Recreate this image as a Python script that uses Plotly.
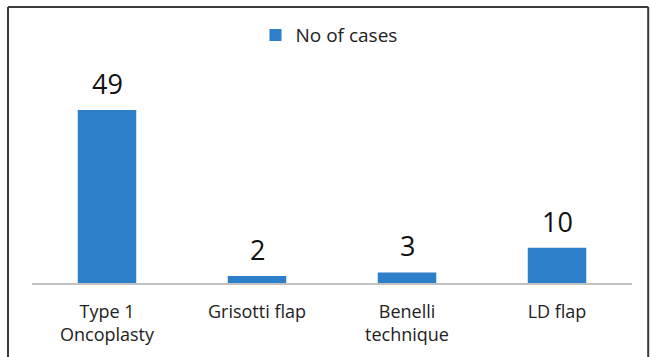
import plotly.graph_objects as go

categories = ["Type 1<br>Oncoplasty", "Grisotti flap", "Benelli<br>technique", "LD flap"]
cases = [49, 2, 3, 10]
series_name = "No of cases"

BAR_BLUE = "#2e7fca"
FONT = "Open Sans, Lato, sans-serif"

fig = go.Figure()
fig.add_trace(go.Bar(
    x=categories,
    y=cases,
    name=series_name,
    marker=dict(color=BAR_BLUE, line=dict(width=0)),
    width=0.39,
    showlegend=True,
))

# value labels above each bar
for cat, val in zip(categories, cases):
    fig.add_annotation(
        x=cat, y=val, xref="x", yref="y",
        text=str(val), showarrow=False,
        yanchor="bottom", yshift=6,
        font=dict(size=27, color="#111111", family=FONT),
    )

# frame around the whole figure (left, top, right edges)
frame = dict(type="line", xref="paper", yref="paper",
             line=dict(color="#3a3a3a", width=2))
fig.add_shape(**frame, x0=-0.04, x1=-0.04, y0=-0.5, y1=1.296)
fig.add_shape(**frame, x0=-0.04, x1=1.027, y0=1.296, y1=1.296)
fig.add_shape(**frame, x0=1.027, x1=1.027, y0=-0.5, y1=1.296)

fig.update_layout(
    width=650, height=357,
    margin=dict(l=32, r=18, t=70, b=74),
    paper_bgcolor="white",
    plot_bgcolor="white",
    font=dict(family=FONT, color="#222222"),
    showlegend=True,
    legend=dict(
        orientation="h",
        x=0.495, xanchor="center",
        y=1.164, yanchor="middle",
        font=dict(size=19, color="#222222"),
        itemwidth=30,
        bgcolor="rgba(0,0,0,0)",
    ),
    xaxis=dict(
        showline=True, linecolor="#c0c0c0", linewidth=2,
        ticks="", showgrid=False,
        tickfont=dict(size=18, color="#222222"),
        ticklabelstandoff=11,
    ),
    yaxis=dict(
        range=[0, 60.3],
        visible=False,
        showgrid=False,
        zeroline=False,
    ),
)

fig.write_html("out.html")
